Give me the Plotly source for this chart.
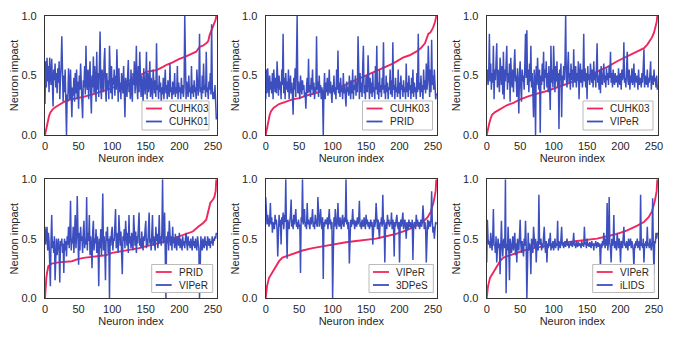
import numpy as np
import plotly.graph_objects as go

# x positions of the neurons (sorted by the reference dataset's impact)
NEURON_INDEX = np.arange(256)

# legend names per panel: (sorted reference, compared dataset)
PANEL_NAMES = [
    ("CUHK03", "CUHK01"),
    ("CUHK03", "PRID"),
    ("CUHK03", "VIPeR"),
    ("PRID", "VIPeR"),
    ("VIPeR", "3DPeS"),
    ("VIPeR", "iLIDS"),
]

# sorted reference curves (read at a few neuron indices)
RED_X_CUHK03_A = [0, 2, 4, 6, 8, 12, 17, 25, 32, 40, 50, 57, 70, 82, 97, 110, 121, 131, 140, 151,
                  160, 166, 175, 181, 190, 200, 210, 218, 225, 230, 235, 240, 243, 245, 248, 250, 252, 254, 255]
RED_Y_CUHK03_A = [0.0, 0.06, 0.12, 0.16, 0.19, 0.22, 0.24, 0.27, 0.29, 0.30, 0.31, 0.32, 0.34, 0.36, 0.39, 0.42,
                  0.45, 0.47, 0.50, 0.53, 0.54, 0.545, 0.57, 0.59, 0.61, 0.64, 0.66, 0.68, 0.70, 0.74, 0.75, 0.77,
                  0.79, 0.84, 0.88, 0.90, 0.94, 0.97, 1.0]

RED_X_CUHK03_B = [0, 2, 4, 6, 8, 12, 20, 30, 40, 50, 60, 80, 95, 110, 130, 150, 170, 190, 205,
                  215, 225, 232, 238, 243, 246, 250, 253, 255]
RED_Y_CUHK03_B = [0.0, 0.06, 0.12, 0.17, 0.20, 0.23, 0.26, 0.28, 0.30, 0.31, 0.33, 0.36, 0.38, 0.40, 0.45, 0.50,
                  0.545, 0.60, 0.65, 0.67, 0.70, 0.73, 0.77, 0.85, 0.86, 0.90, 0.95, 1.0]

RED_X_CUHK03_C = [0, 2, 4, 6, 8, 12, 20, 30, 40, 50, 60, 70, 90, 105, 125, 145, 160, 180, 195,
                  210, 225, 235, 240, 244, 247, 250, 252, 254, 255]
RED_Y_CUHK03_C = [0.0, 0.06, 0.10, 0.14, 0.17, 0.19, 0.22, 0.25, 0.27, 0.30, 0.32, 0.34, 0.37, 0.40, 0.44, 0.48,
                  0.52, 0.57, 0.62, 0.66, 0.70, 0.73, 0.76, 0.79, 0.82, 0.86, 0.90, 0.95, 1.0]

RED_X_PRID = [0, 1, 2, 3, 5, 10, 20, 40, 50, 60, 75, 90, 100, 120, 140, 160, 175, 190, 205,
              220, 228, 235, 240, 242, 244, 246, 250, 252, 254, 255]
RED_Y_PRID = [0.0, 0.15, 0.17, 0.21, 0.27, 0.29, 0.30, 0.31, 0.33, 0.34, 0.35, 0.36, 0.38, 0.40, 0.42, 0.45,
              0.47, 0.50, 0.53, 0.56, 0.60, 0.63, 0.66, 0.70, 0.75, 0.80, 0.83, 0.85, 0.90, 1.0]

RED_X_VIPER = [0, 2, 5, 10, 15, 20, 25, 35, 45, 55, 70, 80, 95, 105, 120, 135, 150, 165, 180,
               195, 210, 222, 225, 235, 242, 247, 251, 254, 255]
RED_Y_VIPER = [0.0, 0.10, 0.17, 0.22, 0.27, 0.31, 0.34, 0.36, 0.38, 0.40, 0.42, 0.43, 0.45, 0.46, 0.47, 0.48,
               0.49, 0.50, 0.52, 0.54, 0.57, 0.60, 0.61, 0.64, 0.68, 0.73, 0.81, 0.90, 1.0]

# impact of the same neurons on the compared dataset
BLUE_CUHK01 = [
    .26, .62, .40, .65, .45, .58, .36, .65, .50, .42, .64, .38, .24, .55, .46, .60,
    .40, .52, .35, .56, .44, .62, .30, .48, .58, .83, .42, .28, .50, .36, .55, .30,
    .00, .34, .28, .56, .32, .30, .55, .36, .15, .40, .33, .48, .28, .52, .35, .55,
    .30, .45, .22, .50, .38, .60, .32, .28, .14, .46, .40, .58, .34, .75, .42, .38,
    .55, .30, .48, .62, .36, .18, .50, .40, .66, .35, .58, .44, .28, .70, .38, .52,
    .32, .60, .87, .40, .30, .55, .45, .36, .62, .73, .40, .28, .52, .38, .46, .30,
    .75, .40, .35, .58, .30, .48, .42, .55, .33, .50, .38, .72, .45, .28, .56, .36,
    .44, .30, .52, .40, .35, .58, .26, .15, .48, .38, .32, .50, .63, .36, .45, .30,
    .55, .38, .28, .52, .42, .62, .35, .46, .75, .40, .30, .58, .36, .70, .44, .32,
    .50, .38, .28, .56, .40, .34, .45, .70, .30, .52, .36, .42, .62, .32, .48, .38,
    .30, .55, .40, .35, .46, .32, .77, .38, .42, .30, .50, .36, .44, .28, .40, .34,
    .48, .30, .38, .55, .35, .42, .30, .46, .38, .32, .60, .36, .40, .30, .45, .34,
    .38, .52, .32, .40, .35, .58, .30, .44, .36, .40, .30, .48, .35, .42, .32, .40,
    1.0, .36, .30, .45, .38, .32, .50, .36, .40, .30, .58, .35, .42, .32, .46, .36,
    .40, .30, .55, .38, .33, .44, .85, .36, .40, .30, .50, .35, .60, .38, .42, .32,
    .70, .36, .40, .30, .45, .38, .52, .34, .93, .40, .30, .36, .30, .42, .25, .13,
]

BLUE_PRID = [
    .30, .55, .35, .56, .42, .32, .50, .38, .45, .35, .52, .30, .55, .40, .36, .48,
    .35, .62, .40, .33, .50, .38, .45, .30, .55, .42, .85, .35, .48, .30, .52, .38,
    .45, .36, .55, .30, .42, .50, .35, .44, .33, .17, .48, .38, .56, .32, .62, 1.0,
    .35, .45, .38, .30, .50, .40, .34, .46, .38, .42, .32, .36, .22, .40, .48, .35,
    .64, .36, .42, .32, .48, .38, .55, .34, .44, .30, .40, .36, .83, .38, .45, .32,
    .50, .36, .42, .30, .40, .34, .00, .38, .52, .30, .44, .36, .48, .33, .40, .55,
    .35, .45, .30, .27, .42, .36, .50, .34, .40, .30, .55, .38, .71, .35, .44, .32,
    .48, .36, .40, .30, .52, .35, .42, .28, .24, .45, .36, .40, .33, .50, .38, .30,
    .46, .35, .55, .30, .42, .38, .50, .33, .45, .36, .83, .40, .30, .52, .36, .44,
    .32, .58, .75, .35, .42, .30, .50, .38, .36, .67, .40, .30, .48, .35, .44, .32,
    .52, .36, .40, .30, .58, .38, .75, .34, .44, .30, .55, .36, .42, .32, .48, .38,
    .78, .35, .42, .30, .50, .36, .44, .30, .40, .38, .55, .34, .46, .32, .78, .38,
    .42, .30, .48, .36, .40, .32, .55, .35, .44, .30, .50, .38, .42, .32, .46, .36,
    .40, .30, .60, .36, .44, .32, .50, .38, .42, .30, .48, .35, .55, .32, .44, .36,
    .40, .30, .52, .36, .85, .38, .44, .32, .50, .36, .42, .30, .55, .38, .46, .35,
    .60, .38, .45, .75, .40, .32, .55, .36, .80, .42, .50, .38, .55, .44, .30, .35,
]

BLUE_VIPER_A = [
    .45, .55, .42, .50, .85, .45, .60, .38, .52, .44, .75, .30, .55, .46, .62, .77,
    .40, .55, .48, .36, .65, .50, .42, .58, .34, .70, .30, .55, .45, .60, .75, .38,
    .52, .44, .60, .28, .65, .48, .40, .55, .36, .58, .72, .45, .50, .32, .56, .42,
    .18, .52, .62, .40, .28, .55, .45, .50, .38, .60, .85, .48, .88, .42, .55, .36,
    .60, .45, .75, .40, .52, .35, .15, .55, .46, .00, .58, .42, .65, .48, .38, .55,
    .02, .50, .42, .60, .45, .70, .38, .55, .48, .62, .40, .52, .36, .58, .45, .21,
    .75, .44, .55, .40, .75, .48, .36, .58, .45, .62, .40, .52, .05, .55, .46, .60,
    .15, .50, .42, .58, .46, .62, 1.0, .48, .40, .56, .70, .44, .52, .38, .60, .46,
    .55, .40, .72, .48, .44, .58, .40, .52, .46, .62, .30, .50, .60, .44, .55, .40,
    .50, .85, .45, .56, .40, .52, .30, .58, .46, .50, .42, .60, .48, .44, .55, .40,
    .62, .46, .52, .40, .56, .77, .44, .50, .38, .55, .35, .58, .46, .42, .52, .60,
    .44, .50, .40, .56, .46, .52, .42, .58, .48, .70, .44, .52, .40, .55, .46, .42,
    .52, .44, .48, .50, .40, .56, .46, .42, .52, .38, .55, .46, .50, .78, .44, .48,
    .40, .52, .70, .46, .42, .55, .38, .50, .44, .56, .42, .48, .60, .40, .52, .46,
    .44, .50, .38, .55, .42, .48, .46, .40, .52, .44, .58, .72, .40, .50, .46, .42,
    .55, .40, .48, .44, .52, .62, .38, .50, .46, .42, .55, .45, .48, .40, .50, .38,
]

BLUE_VIPER_B = [
    .60, .45, .55, .60, .40, .55, .48, .35, .10, .50, .70, .42, .48, .38, .52, .15,
    .45, .50, .36, .48, .50, .40, .13, .48, .44, .50, .38, .46, .21, .50, .40, .48,
    .35, .52, .45, .60, .42, .55, .82, .40, .50, .46, .60, .38, .55, .70, .42, .52,
    .86, .45, .28, .55, .40, .60, .48, .52, .38, .56, .65, .42, .50, .45, .85, .40,
    .55, .48, .70, .36, .52, .44, .25, .56, .65, .40, .50, .46, .58, .38, .52, .44,
    .10, .50, .42, .58, .36, .55, .88, .40, .52, .44, .15, .56, .48, .60, .38, .50,
    .00, .52, .44, .55, .60, .40, .50, .48, .58, .75, .42, .55, .46, .38, .70, .50,
    .44, .56, .40, .20, .52, .48, .58, .42, .65, .50, .44, .55, .38, .70, .46, .52,
    .42, .55, .48, .40, .70, .50, .44, .56, .38, .52, .46, .60, .72, .44, .50, .42,
    .56, .46, .40, .52, .48, .58, .65, .42, .50, .44, .55, .72, .46, .50, .40, .56,
    .70, .44, .52, .46, .40, .60, .48, .54, .42, .50, .70, .46, .52, .44, .56, 1.0,
    .46, .50, .72, .42, .00, .52, .46, .56, .40, .65, .48, .44, .52, .40, .60, .46,
    .50, .42, .54, .46, .40, .52, .48, .44, .55, .42, .50, .46, .40, .52, .44, .48,
    .42, .50, .55, .46, .40, .52, .44, .48, .42, .50, .46, .40, .52, .44, .48, .42,
    .50, .44, .40, .52, .46, .42, .00, .48, .52, .44, .40, .50, .46, .42, .52, .44,
    .48, .40, .52, .46, .44, .50, .42, .48, .46, .52, .44, .50, .48, .52, .50, .55,
]

BLUE_3DPES = [
    .85, .65, .62, .70, .64, .60, .66, .80, .62, .68, .55, .64, .60, .58, .70, .62,
    .66, .58, .35, .64, .70, .60, .66, .45, .68, .62, .72, .58, .70, .64, 1.0, .60,
    .33, .66, .62, .58, .64, .70, .83, .60, .66, .58, .70, .62, .68, .75, .60, .64,
    .58, .66, .60, .62, .21, .68, .64, 1.0, .62, .66, .75, .60, .64, .58, .80, .62,
    .66, .60, .58, .68, .62, .66, .75, .60, .64, .58, .70, .65, .62, .60, .85, .64,
    .60, .66, .75, .62, .58, .68, .16, .64, .60, .66, .65, .62, .68, .58, .64, .75,
    .62, .66, .58, .64, .00, .62, .68, .60, .75, .64, .58, .66, .80, .62, .60, .68,
    .64, .58, .66, .70, .62, .60, .68, .64, 1.0, .62, .66, .58, .64, .29, .62, .66,
    .60, .64, .75, .62, .66, .58, .64, .65, .60, .68, .62, .66, .82, .60, .64, .58,
    .66, .62, .60, .68, .64, .58, .70, .62, .66, .60, .64, .58, .62, .66, .60, .64,
    .45, .62, .66, .60, .64, .80, .62, .58, .66, .60, .50, .64, .62, .68, .60, .87,
    .62, .66, .30, .60, .64, .58, .70, .62, .66, .60, .64, .62, .72, .58, .66, .62,
    .35, .64, .60, .66, .70, .62, .58, .64, .30, .62, .66, .60, .64, .72, .58, .62,
    .66, .60, .50, .64, .62, .58, .66, .60, .64, .62, .58, .66, .32, .60, .64, .62,
    .58, .70, .62, .66, .60, .64, .58, .62, .66, .60, .64, .78, .62, .58, .64, .60,
    .30, .62, .66, .58, .65, .62, .60, .66, .90, .64, .55, .60, .50, .58, .64, .62,
]

BLUE_ILIDS = [
    .30, .66, .50, .45, .48, .42, .55, .46, .40, .50, .75, .44, .45, .38, .52, .30,
    .48, .50, .42, .46, .20, .52, .65, .44, .35, .48, .50, .42, 1.0, .04, .46, .40,
    .60, .42, .15, .50, .46, .38, .45, .52, .40, .48, .55, .36, .46, .30, .50, .44,
    .40, .52, .66, .45, .38, .48, .42, .35, .50, .44, .65, .46, .00, .48, .55, .40,
    .46, .42, .20, .50, .44, .38, .60, .46, .42, .50, .30, .44, .48, .40, .87, .46,
    .45, .50, .40, .46, .42, .52, .60, .44, .38, .48, .30, .46, .42, .50, .44, .55,
    .40, .46, .42, .48, .40, .45, .50, .42, .46, .44, .65, .40, .48, .44, .42, .50,
    .60, .44, .46, .42, .45, .48, .43, .46, .50, .44, .47, .42, .46, .44, .48, .45,
    .43, .47, .55, .44, .46, .42, .48, .45, .43, .47, .44, .46, .45, .42, .48, .44,
    .46, .43, .60, .45, .47, .42, .50, .44, .46, .43, .47, .45, .42, .48, .44, .46,
    .40, .46, .44, .48, .42, .45, .47, .43, .46, .44, .25, .46, .42, .48, .44, .55,
    .46, .42, .50, .44, .80, .40, .48, .85, .46, .42, .30, .50, .44, .46, .70, .42,
    .48, .44, .40, .55, .46, .42, .50, .44, .30, .48, .46, .42, .50, .60, .44, .46,
    .42, .48, .45, .40, .50, .44, .46, .50, .42, .48, .44, .40, .25, .46, .42, .48,
    .44, .50, .42, .46, .48, .40, .87, .44, .46, .42, .50, .30, .46, .44, .48, .42,
    .60, .44, .46, .42, .50, .45, .40, .46, .84, .44, .20, .48, .46, .55, .50, .55,
]

PANEL_RED = [
    (RED_X_CUHK03_A, RED_Y_CUHK03_A),
    (RED_X_CUHK03_B, RED_Y_CUHK03_B),
    (RED_X_CUHK03_C, RED_Y_CUHK03_C),
    (RED_X_PRID, RED_Y_PRID),
    (RED_X_VIPER, RED_Y_VIPER),
    (RED_X_VIPER, RED_Y_VIPER),
]
PANEL_BLUE = [BLUE_CUHK01, BLUE_PRID, BLUE_VIPER_A, BLUE_VIPER_B, BLUE_3DPES, BLUE_ILIDS]

RED = "#F0265C"
BLUE = "#3D4FBF"
FRAME = "#333333"
TEXT = "#262626"
FONT = "Liberation Sans, Arial, sans-serif"

# page pixel layout measured on the 675x339 reference; the page body adds an 8px margin
PAGE_W, PAGE_H, PAD = 675, 339, 8
W, H = PAGE_W - PAD, PAGE_H - PAD
X_DOMAINS = [(45, 217), (265.7, 437), (486.7, 658)]
Y_DOMAINS = [(16, 135), (179.3, 298)]
# legend boxes: left, right, top, bottom
LEGEND_BOXES = [
    (142, 209, 101, 130), (362.5, 432.5, 101, 130), (583, 653, 101, 130),
    (151.7, 212.7, 264.5, 292.5), (369, 433.3, 264.5, 292.5), (592.7, 654.3, 264.5, 292.5),
]


def px(x):
    return (x - PAD) / W


def py(y):
    return 1 - (y - PAD) / H


fig = go.Figure()
shapes, annotations = [], []
layout = dict(
    width=W, height=H,
    margin=dict(l=0, r=0, t=0, b=0),
    paper_bgcolor="white", plot_bgcolor="white",
    font=dict(family=FONT, size=11, color=TEXT),
    showlegend=False,
)

for k in range(6):
    row, col = divmod(k, 3)
    n = k + 1
    xa = "x" if n == 1 else f"x{n}"
    ya = "y" if n == 1 else f"y{n}"
    red_name, blue_name = PANEL_NAMES[k]
    rx, ry = PANEL_RED[k]

    fig.add_trace(go.Scatter(x=rx, y=ry, mode="lines", name=red_name,
                             line=dict(color=RED, width=1.9), xaxis=xa, yaxis=ya))
    fig.add_trace(go.Scatter(x=NEURON_INDEX, y=PANEL_BLUE[k], mode="lines", name=blue_name,
                             line=dict(color=BLUE, width=1.5), xaxis=xa, yaxis=ya))

    x0, x1 = X_DOMAINS[col]
    y0, y1 = Y_DOMAINS[row]
    axis_common = dict(showline=True, mirror=True, linecolor=FRAME, linewidth=1.2,
                       showgrid=False, zeroline=False, ticks="", automargin=False,
                       tickfont=dict(size=11, color=TEXT))
    layout["xaxis" if n == 1 else f"xaxis{n}"] = dict(
        axis_common, domain=[px(x0), px(x1)], range=[0, 256],
        tickvals=[0, 50, 100, 150, 200, 250], ticklabelstandoff=1,
        title=dict(text="Neuron index", standoff=2, font=dict(size=11)),
        anchor=ya,
    )
    layout["yaxis" if n == 1 else f"yaxis{n}"] = dict(
        axis_common, domain=[py(y1), py(y0)], range=[0, 1],
        tickvals=[0, 0.5, 1.0], ticktext=["0.0", "0.5", "1.0"], ticklabelstandoff=5,
        title=dict(text="Neuron impact", standoff=0, font=dict(size=11)),
        anchor=xa,
    )

    # legend box in the lower right of each panel
    l, r, t, b = LEGEND_BOXES[k]
    shapes.append(dict(type="rect", xref="paper", yref="paper",
                       x0=px(l), x1=px(r), y0=py(b), y1=py(t),
                       fillcolor="white", line=dict(color="#BBBBBB", width=1), layer="above"))
    for j, (name, color) in enumerate([(red_name, RED), (blue_name, BLUE)]):
        ey = t + 7.5 + j * 13
        shapes.append(dict(type="line", xref="paper", yref="paper",
                           x0=px(l + 4), x1=px(l + 20), y0=py(ey), y1=py(ey),
                           line=dict(color=color, width=1.8), layer="above"))
        annotations.append(dict(xref="paper", yref="paper", x=px(l + 25), y=py(ey),
                                xanchor="left", yanchor="middle", showarrow=False,
                                text=name, font=dict(size=10, color=TEXT)))

layout["shapes"] = shapes
layout["annotations"] = annotations
fig.update_layout(**layout)
fig.write_html("out.html")
